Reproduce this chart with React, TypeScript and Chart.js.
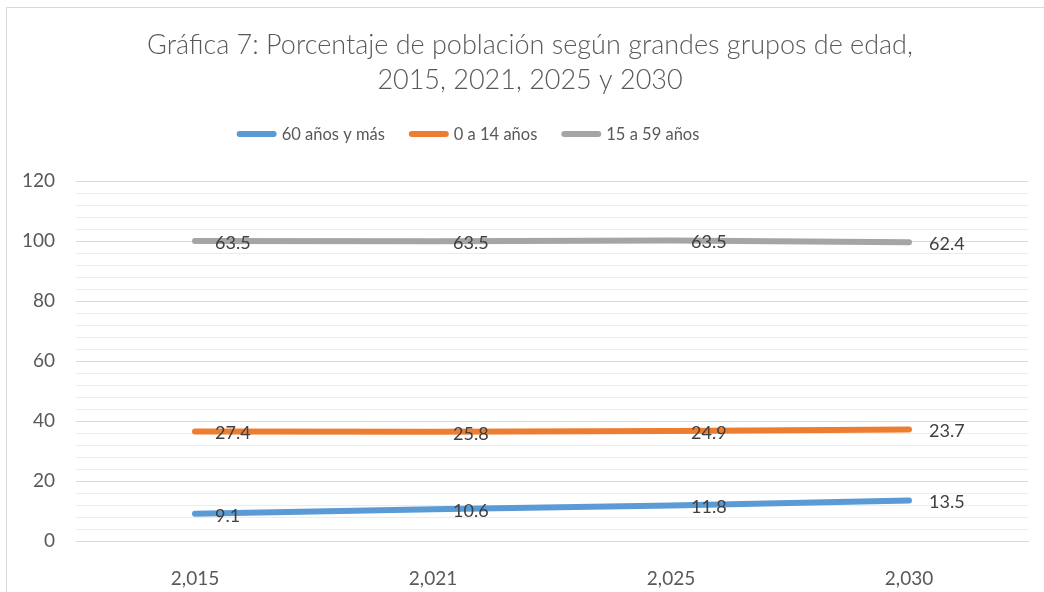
import React, { useEffect, useRef } from 'react';
import { Chart, registerables } from 'chart.js';

Chart.register(...registerables);

const categories = ['2,015', '2,021', '2,025', '2,030'];
const seriesNames = ['60 años y más', '0 a 14 años', '15 a 59 años'];
const old60 = [9.1, 10.6, 11.8, 13.5];
const young0to14 = [27.4, 25.8, 24.9, 23.7];
const adult15to59 = [63.5, 63.5, 63.5, 62.4];
const seriesColors = ['#5b9bd5', '#ed7d31', '#a5a5a5'];
const titleLines = [
  'Gráfica 7: Porcentaje de población según grandes grupos de edad,',
  '2015, 2021, 2025 y 2030',
];

const FONT = 'Lato, "Open Sans", sans-serif';

const overlayPlugin = {
  id: 'overlay',
  afterDatasetsDraw(chart: any) {
    const ctx = chart.ctx;
    ctx.save();
    ctx.font = `18px ${FONT}`;
    ctx.fillStyle = '#404040';
    ctx.textAlign = 'left';
    ctx.textBaseline = 'middle';
    chart.data.datasets.forEach((ds: any, i: number) => {
      const meta = chart.getDatasetMeta(i);
      meta.data.forEach((pt: any, j: number) => {
        ctx.fillText(Number(ds.data[j]).toFixed(1), pt.x + 20, pt.y + 2);
      });
    });
    ctx.restore();
  },
  afterDraw(chart: any) {
    const ctx = chart.ctx;
    ctx.save();
    ctx.font = `300 27px ${FONT}`;
    ctx.fillStyle = '#595959';
    ctx.textAlign = 'center';
    ctx.textBaseline = 'middle';
    ctx.fillText(titleLines[0], 530, 45);
    ctx.fillText(titleLines[1], 530, 80);
    ctx.font = `16.5px ${FONT}`;
    const lineLen = 40;
    const gap = 5;
    const itemGap = 24;
    const widths = seriesNames.map((n) => ctx.measureText(n).width);
    const total = widths.reduce((a, w) => a + lineLen + gap + w, 0) + itemGap * (seriesNames.length - 1);
    let x = 468 - total / 2;
    const y = 134;
    seriesNames.forEach((n, i) => {
      ctx.strokeStyle = seriesColors[i];
      ctx.lineWidth = 6;
      ctx.lineCap = 'round';
      ctx.beginPath();
      ctx.moveTo(x + 3, y);
      ctx.lineTo(x + lineLen - 3, y);
      ctx.stroke();
      ctx.fillStyle = '#595959';
      ctx.textAlign = 'left';
      ctx.fillText(n, x + lineLen + gap, y + 1);
      x += lineLen + gap + widths[i] + itemGap;
    });
    ctx.restore();
  },
};

export default function App() {
  const canvasRef = useRef<HTMLCanvasElement | null>(null);

  useEffect(() => {
    if (!canvasRef.current) return;
    const values = [old60, young0to14, adult15to59];
    const chart = new Chart(canvasRef.current, {
      type: 'line',
      data: {
        labels: categories,
        datasets: seriesNames.map((name, i) => ({
          label: name,
          data: values[i],
          borderColor: seriesColors[i],
          backgroundColor: seriesColors[i],
          borderWidth: 6,
          borderCapStyle: 'round' as const,
          borderJoinStyle: 'round' as const,
          pointRadius: 0,
          pointHoverRadius: 0,
          fill: false,
          tension: 0,
        })),
      },
      options: {
        animation: false,
        responsive: false,
        maintainAspectRatio: false,
        layout: { padding: { top: 181, right: 16, left: 0, bottom: 0 } },
        plugins: {
          legend: { display: false },
          title: { display: false },
          tooltip: { enabled: false },
        },
        scales: {
          x: {
            offset: true,
            grid: { display: false },
            border: { display: true, color: '#d9d9d9', width: 1 },
            ticks: {
              color: '#595959',
              font: { family: FONT, size: 19 },
              padding: 18,
            },
            afterFit(scale: any) {
              scale.height = 51;
            },
          },
          y: {
            stacked: true,
            min: 0,
            max: 120,
            border: { display: false },
            grid: {
              drawTicks: false,
              color: (c: any) => (c.tick && c.tick.value % 20 === 0 ? '#d9d9d9' : '#ececec'),
              lineWidth: 1,
            },
            ticks: {
              stepSize: 4,
              autoSkip: false,
              color: '#595959',
              font: { family: FONT, size: 19 },
              padding: 21,
              callback: (v: any) => (Number(v) % 20 === 0 ? String(v) : ''),
            },
            afterFit(scale: any) {
              scale.width = 76;
            },
          },
        },
      },
      plugins: [overlayPlugin],
    });
    return () => chart.destroy();
  }, []);

  return (
    <div style={{ position: 'fixed', left: 0, top: 0, width: 1044, height: 592, overflow: 'hidden', background: '#fff' }}>
      <div
        style={{
          position: 'absolute',
          left: 6,
          top: 7,
          width: 1060,
          height: 600,
          border: '1px solid #d9d9d9',
          boxSizing: 'border-box',
        }}
      />
      <canvas ref={canvasRef} width={1044} height={592} style={{ position: 'absolute', left: 0, top: 0 }} />
    </div>
  );
}
